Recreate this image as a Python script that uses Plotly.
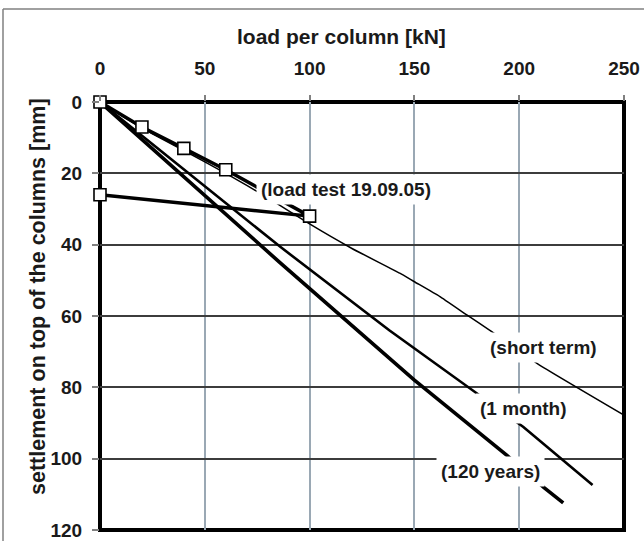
import plotly.graph_objects as go

# ---- data ----
load_test_x = [0, 20, 40, 60, 100, 0]
load_test_y = [0, 7, 13, 19, 32, 26]

short_term_x = [0, 20, 40, 60, 80, 100, 120, 143, 150, 162, 175, 186, 209, 252.6]
short_term_y = [0, 7.3, 13.6, 20, 26.8, 34.2, 41, 48, 50.4, 54.5, 59.7, 64, 73.5, 88.7]

one_month_x = [0, 40, 86, 138, 180, 202, 235]
one_month_y = [0, 19, 40.6, 64, 81.7, 91.1, 107.4]

years120_x = [0, 40, 86, 150, 194, 212, 221]
years120_y = [0, 21, 45.1, 78, 99, 108.2, 112.4]

x_ticks = [0, 50, 100, 150, 200, 250]
y_ticks = [0, 20, 40, 60, 80, 100, 120]

labels = ["(load test 19.09.05)", "(short term)", "(1 month)", "(120 years)"]
label_x = [117.3, 211.4, 202.1, 186.4]
label_y = [24.4, 68.7, 85.8, 103.6]

# ---- geometry ----
W, H = 644, 541
ML, MR, MT, MB = 100, 20, 102, 11
PW, PH = W - ML - MR, H - MT - MB


def px_x(p):
    return (p - ML) / PW


def px_y(p):
    return 1 - (p - MT) / PH


FONT = "Liberation Sans, Arial, sans-serif"
TXT = "#1a1a1a"

fig = go.Figure()

fig.add_trace(go.Scatter(x=short_term_x, y=short_term_y, mode="lines",
                         line=dict(color="black", width=1.5, shape="spline", smoothing=0.4),
                         showlegend=False))
fig.add_trace(go.Scatter(x=one_month_x, y=one_month_y, mode="lines",
                         line=dict(color="black", width=2.6), showlegend=False))
fig.add_trace(go.Scatter(x=years120_x, y=years120_y, mode="lines",
                         line=dict(color="black", width=3.6), showlegend=False))
fig.add_trace(go.Scatter(x=load_test_x, y=load_test_y, mode="lines+markers",
                         line=dict(color="black", width=3.5),
                         marker=dict(symbol="square", size=12, color="white",
                                     line=dict(color="black", width=1.6)),
                         cliponaxis=False, showlegend=False))

for t, x, y in zip(labels, label_x, label_y):
    fig.add_annotation(x=x, y=y, xref="x", yref="y", text=t, showarrow=False,
                       font=dict(family=FONT, size=19, color=TXT, weight="bold"),
                       bgcolor="white", borderpad=4)

# axis titles
fig.add_annotation(x=px_x(341), y=px_y(23), xref="paper", yref="paper",
                   text="load per column [kN]", showarrow=False,
                   font=dict(family=FONT, size=21, color=TXT, weight="bold"))
fig.add_annotation(x=px_x(24), y=px_y(297), xref="paper", yref="paper",
                   text="settlement on top of the columns [mm]", showarrow=False,
                   textangle=-90,
                   font=dict(family=FONT, size=21.5, color=TXT, weight="bold"))

# plot frame (paper-referenced so it is not clipped, below traces)
fig.add_shape(type="rect", xref="paper", yref="paper", x0=0, x1=1, y0=0, y1=1,
              line=dict(color="black", width=4), layer="between")

# outer image border (top and left)
fig.add_shape(type="line", xref="paper", yref="paper",
              x0=px_x(3), x1=px_x(W + 5), y0=px_y(9), y1=px_y(9),
              line=dict(color="#808080", width=1.5))
fig.add_shape(type="line", xref="paper", yref="paper",
              x0=px_x(3), x1=px_x(3), y0=px_y(9), y1=px_y(H + 5),
              line=dict(color="#808080", width=1.5))

fig.update_xaxes(side="top", range=[0, 250], tickvals=x_ticks,
                 ticks="outside", ticklen=6, tickwidth=1.5, tickcolor="#808080",
                 ticklabelstandoff=12,
                 showgrid=True, gridcolor="#9aa8b4", gridwidth=2,
                 zeroline=False, showline=False,
                 tickfont=dict(family=FONT, size=19, color=TXT, weight="bold"))
fig.update_yaxes(range=[120, 0], tickvals=y_ticks,
                 ticks="outside", ticklen=7, tickwidth=1.5, tickcolor="#808080",
                 ticklabelstandoff=6,
                 showgrid=True, gridcolor="#3c3c3c", gridwidth=2,
                 zeroline=False, showline=False,
                 tickfont=dict(family=FONT, size=19, color=TXT, weight="bold"))

fig.update_layout(width=W, height=H,
                  margin=dict(l=ML, r=MR, t=MT, b=MB, autoexpand=False),
                  paper_bgcolor="white", plot_bgcolor="white",
                  showlegend=False)

fig.write_html("out.html", config={"displayModeBar": False},
               post_script="document.body.style.margin='0';document.body.style.padding='0';")
